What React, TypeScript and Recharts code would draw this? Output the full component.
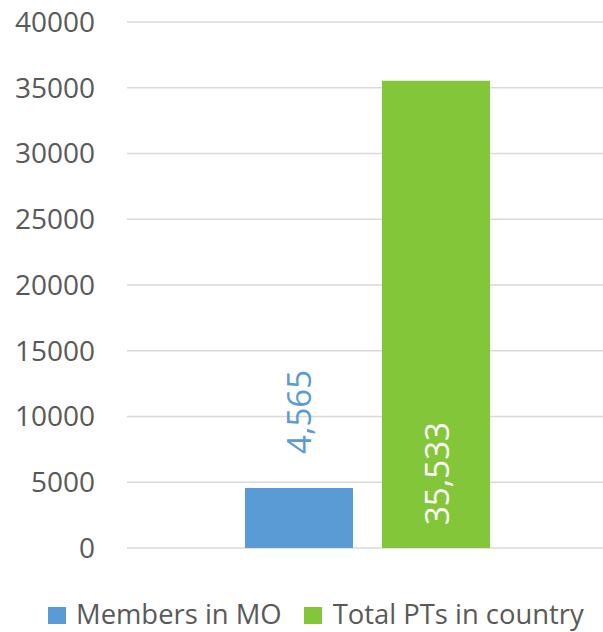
import { BarChart, Bar, XAxis, YAxis, CartesianGrid, LabelList } from "recharts";

const categories = [""];
const members = [4565];
const totalPTs = [35533];
const yTicks = [0, 5000, 10000, 15000, 20000, 25000, 30000, 35000, 40000];

const BLUE = "#5B9BD5";
const GREEN = "#84C63A";
const TEXT = "#595959";
const FONT = "'Open Sans', sans-serif";

const data = categories.map((name, i) => ({
  name,
  members: members[i],
  total: totalPTs[i],
}));

const fmt = (v: any) => Number(v).toLocaleString("en-US");

// rotated value label; "outside" puts it above the bar, otherwise inside near the base
const makeLabel = (color: string, inside: boolean) => (props: any) => {
  const { x, y, width, height, value } = props;
  const cx = x + width / 2;
  const anchorY = inside ? y + height - 23 : y - 34;
  return (
    <text
      x={cx}
      y={anchorY}
      transform={`rotate(-90 ${cx} ${anchorY})`}
      fill={color}
      fontSize={33}
      fontFamily={FONT}
      textAnchor="start"
      dominantBaseline="central"
    >
      {fmt(value)}
    </text>
  );
};

const swatch = (color: string) => ({
  display: "inline-block",
  width: 18,
  height: 17,
  background: color,
  marginTop: 9,
});

export default function App() {
  return (
    <div style={{ position: "absolute", left: 0, top: 0, width: 603, height: 632, background: "#fff", overflow: "hidden" }}>
      <BarChart
        width={603}
        height={632}
        data={data}
        margin={{ top: 22, right: -4, left: 0, bottom: 84 }}
        barSize={108}
        barGap={29}
      >
        <CartesianGrid vertical={false} stroke="#D9D9D9" strokeWidth={1.5} />
        <XAxis dataKey="name" axisLine={false} tickLine={false} tick={false} height={0} />
        <YAxis
          width={127}
          domain={[0, 40000]}
          ticks={yTicks}
          axisLine={false}
          tickLine={false}
          tickSize={0}
          tickMargin={32}
          interval={0}
          tick={{ fill: TEXT, fontSize: 28, fontFamily: FONT }}
        />
        <Bar dataKey="members" fill={BLUE} isAnimationActive={false}>
          <LabelList dataKey="members" content={makeLabel(BLUE, false)} />
        </Bar>
        <Bar dataKey="total" fill={GREEN} isAnimationActive={false}>
          <LabelList dataKey="total" content={makeLabel("#FFFFFF", true)} />
        </Bar>
      </BarChart>
      <div
        style={{
          position: "absolute",
          top: 598,
          left: 48,
          height: 32,
          lineHeight: "32px",
          display: "flex",
          alignItems: "flex-start",
          fontFamily: FONT,
          fontSize: 27.4,
          color: TEXT,
          whiteSpace: "nowrap",
        }}
      >
        <span style={{ ...swatch(BLUE), marginRight: 10 }} />
        <span style={{ marginRight: 22 }}>Members in MO</span>
        <span style={{ ...swatch(GREEN), marginRight: 11 }} />
        <span>Total PTs in country</span>
      </div>
    </div>
  );
}
